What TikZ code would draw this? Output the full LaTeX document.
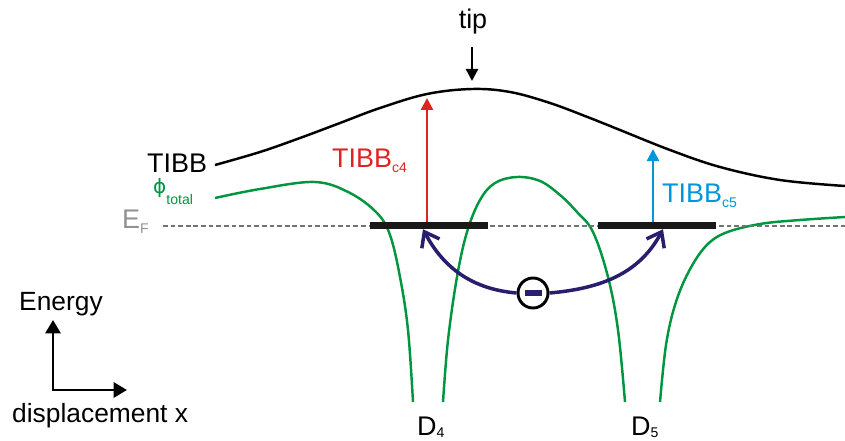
\documentclass[tikz,border=0pt]{standalone}
\usepackage{fontspec}
\setmainfont{Liberation Sans}
\newfontfamily\phifont{DejaVu Sans}
\usetikzlibrary{arrows.meta}
\usetikzlibrary{calc}
\usetikzlibrary{positioning}

\definecolor{phigreen}{RGB}{0,150,64}
\definecolor{tibbred}{RGB}{222,35,35}
\definecolor{tibbblue}{RGB}{0,150,220}
\definecolor{flownavy}{RGB}{40,30,110}
\definecolor{fermigray}{RGB}{145,145,145}

\newcommand{\lowsub}[2][5pt]{\raisebox{-#1}{\fontsize{12}{14}\selectfont #2}}

\begin{document}
\begin{tikzpicture}[
        x=0.3mm, y=-0.3mm,
        >=Latex,
        big/.style={font=\fontsize{23}{27}\selectfont, inner sep=0pt},
        small/.style={font=\fontsize{22.5}{26}\selectfont, inner sep=0pt},
        band/.style={draw=black, line width=2.1pt},
        potential/.style={draw=phigreen, line width=2.1pt},
        fermi/.style={draw=black!55, line width=1pt, dash pattern=on 4pt off 2.5pt},
        level/.style={fill=black!90, inner sep=0pt,
            minimum width=35.4mm, minimum height=2.1mm},
        lift/.style={line width=2pt, -{Triangle[length=3.6mm,width=3.6mm]}},
        flow/.style={draw=flownavy, line width=3pt,
            -{Straight Barb[length=4mm,width=6mm]}},
        electron/.style={circle, draw=black, line width=2.5pt,
            minimum size=9mm, inner sep=0pt, fill=white},
        axis/.style={line width=2.5pt, line join=miter,
            {Triangle[length=4mm,width=4.5mm]}-{Triangle[length=4mm,width=4.5mm]}}
    ]

    \useasboundingbox (0,0) rectangle (845,441);

    % tip-induced band bending
    \draw[band] plot[smooth, tension=0.6] coordinates {
        (215,165) (260,152) (300,138) (340,123) (380,108) (427,94)
        (472,89) (510,92) (550,103) (590,118) (620,130) (670,150)
        (720,167) (780,180) (845,186)};

    % total potential
    \draw[potential] plot[smooth, tension=0.6] coordinates {
        (215,198) (260,189) (315,182) (350,193) (377,213) (390,235)
        (400,277) (408,330) (413,402)};
    \draw[potential] plot[smooth, tension=0.6] coordinates {
        (443,402) (448,340) (457,277) (467,232) (480,200) (495,183)
        (517,177) (540,181) (560,195) (577,212) (593,232) (608,277)
        (618,330) (625,402)};
    \draw[potential] plot[smooth, tension=0.6] coordinates {
        (660,402) (666,345) (675,305) (688,273) (705,247) (725,233)
        (760,224) (800,220) (845,217)};

    \coordinate (EFl) at (163,226);
    \coordinate (EFr) at (845,226);
    \draw[fermi] (EFl) -- (EFr);

    \node[level] (c4) at (429,225.5) {};
    \node[level] (c5) at (657,225.5) {};

    \coordinate (t4) at (427,98);
    \coordinate (t5) at (653,149);
    \draw[lift, tibbred] (c4.north -| t4) -- (t4);
    \draw[lift, tibbblue] (c5.north -| t5) -- (t5);

    \node[electron] (e) at (533,293) {};
    \fill[flownavy] ($(e.center)+(-8.5,-3)$) rectangle ($(e.center)+(8.5,3)$);
    \draw[flow] (e.west) to[out=175,in=-62] (c4.south -| 423,0);
    \draw[flow] (e.east) to[out=5,in=-118] (c5.south -| 663,0);

    \coordinate (tiptop) at (472,47);
    \coordinate (tipend) at (472,81);
    \draw[lift, black] (tiptop) -- (tipend);

    \node[big, anchor=base] (tiplab) at (473,29) {tip};
    \node[big, anchor=base west] (tibblab) at (147,172) {TIBB};
    \node[big, anchor=base west, text=phigreen] (philab) at (153,193)
        {{\phifont\fontsize{17}{20}\selectfont ϕ}\lowsub[10pt]{total}};
    \node[big, anchor=base west, text=fermigray] (eflab) at (122,228)
        {E\lowsub{F}};
    \node[big, anchor=base west, text=tibbred] (c4lab) at (332,167)
        {TIBB\lowsub{c4}};
    \node[big, anchor=base west, text=tibbblue] (c5lab) at (662,202)
        {TIBB\lowsub{c5}};
    \node[big, anchor=base west] (d4lab) at (417,435) {D\lowsub[2.5pt]{4}};
    \node[big, anchor=base west] (d5lab) at (631,435) {D\lowsub[2.5pt]{5}};

    \coordinate (O) at (53,390);
    \coordinate (Eup) at (53,320);
    \coordinate (Xr) at (127,390);
    \draw[axis] (Eup) -- (O) -- (Xr);
    \node[small, anchor=base west] (elab) at (19,310) {Energy};
    \node[small, anchor=base west] (xlab) at (12,422) {displacement x};

\end{tikzpicture}
\end{document}
